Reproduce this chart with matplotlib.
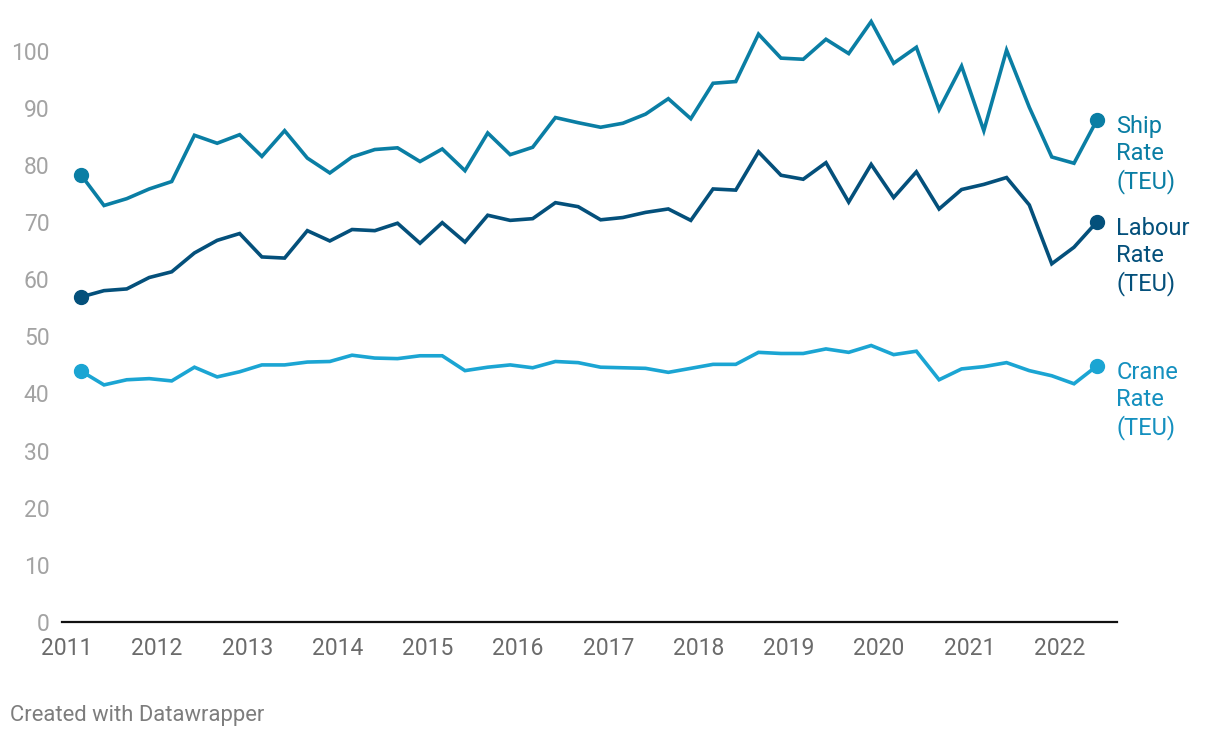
import numpy as np
import pandas as pd
import matplotlib
matplotlib.use("Agg")
import matplotlib.pyplot as plt
import matplotlib.dates as mdates

plt.rcParams['font.family'] = ['Roboto', 'DejaVu Sans']

# quarterly observations, 2011 .. 2022
quarters = pd.date_range('2011-03-01', periods=46, freq='3MS')

ship_rate = [78.2, 72.9, 74.1, 75.8, 77.1, 85.2, 83.8, 85.3, 81.5, 86.0,
             81.2, 78.6, 81.4, 82.7, 83.0, 80.6, 82.8, 79.0, 85.6, 81.8,
             83.1, 88.3, 87.4, 86.6, 87.3, 88.9, 91.6, 88.1, 94.3, 94.6,
             102.9, 98.7, 98.5, 102.0, 99.5, 105.1, 97.8, 100.6, 89.7, 97.3,
             86.0, 100.1, 90.1, 81.4, 80.3, 87.8]
labour_rate = [56.9, 58.0, 58.3, 60.3, 61.3, 64.6, 66.8, 68.0, 63.9, 63.7,
               68.5, 66.7, 68.7, 68.5, 69.8, 66.3, 69.9, 66.5, 71.2, 70.3,
               70.6, 73.4, 72.7, 70.4, 70.8, 71.7, 72.3, 70.3, 75.8, 75.6,
               82.3, 78.2, 77.5, 80.4, 73.5, 80.1, 74.3, 78.8, 72.3, 75.7,
               76.6, 77.8, 73.0, 62.7, 65.6, 70.0]
crane_rate = [43.9, 41.5, 42.4, 42.6, 42.2, 44.6, 42.9, 43.8, 45.0, 45.0,
              45.5, 45.6, 46.7, 46.2, 46.1, 46.6, 46.6, 44.0, 44.6, 45.0,
              44.5, 45.6, 45.4, 44.6, 44.5, 44.4, 43.7, 44.4, 45.1, 45.1,
              47.2, 47.0, 47.0, 47.8, 47.2, 48.4, 46.8, 47.4, 42.4, 44.3,
              44.7, 45.4, 44.0, 43.1, 41.7, 44.8]

series = [
    ("Ship\nRate\n(TEU)", ship_rate, "#0a7ea4", "#0a7ea4"),
    ("Labour\nRate\n(TEU)", labour_rate, "#04507b", "#04507b"),
    ("Crane\nRate\n(TEU)", crane_rate, "#1ba5d3", "#1590bf"),
]

fig = plt.figure(figsize=(12.2, 7.38), dpi=100)
ax = fig.add_axes([62 / 1220, 1 - 622 / 738, (1117 - 62) / 1220, (622 - 5) / 738])

for label, vals, col, tcol in series:
    ax.plot(quarters, vals, color=col, lw=2.6, solid_joinstyle='miter', zorder=3)
    ax.plot([quarters[0], quarters[-1]], [vals[0], vals[-1]], 'o', color=col,
            ms=10, zorder=4)
    ax.annotate(label, (quarters[-1], vals[-1]), xytext=(14, 4),
                textcoords='offset points', ha='left', va='top',
                fontsize=17, color=tcol, linespacing=1.23,
                annotation_clip=False)

ax.set_ylim(0, 108)
ax.set_yticks(np.arange(0, 101, 10))
ax.set_xlim(pd.Timestamp('2010-12-13'), pd.Timestamp('2022-08-22'))
ax.xaxis.set_major_locator(mdates.YearLocator())
ax.xaxis.set_major_formatter(mdates.DateFormatter('%Y'))

ax.tick_params(axis='y', length=0, pad=9, labelsize=16.5, labelcolor='#a3a3a3')
ax.tick_params(axis='x', length=0, pad=11, labelsize=16.5, labelcolor='#6b6b6b')
for s in ['top', 'right', 'left']:
    ax.spines[s].set_visible(False)
ax.spines['bottom'].set_color('#111111')
ax.spines['bottom'].set_linewidth(1.6)

fig.text(10 / 1220, 1 - 715 / 738, "Created with Datawrapper", fontsize=15.8,
         color='#7d7d7d', ha='left', va='center')

fig.savefig('out.png', dpi=100)
